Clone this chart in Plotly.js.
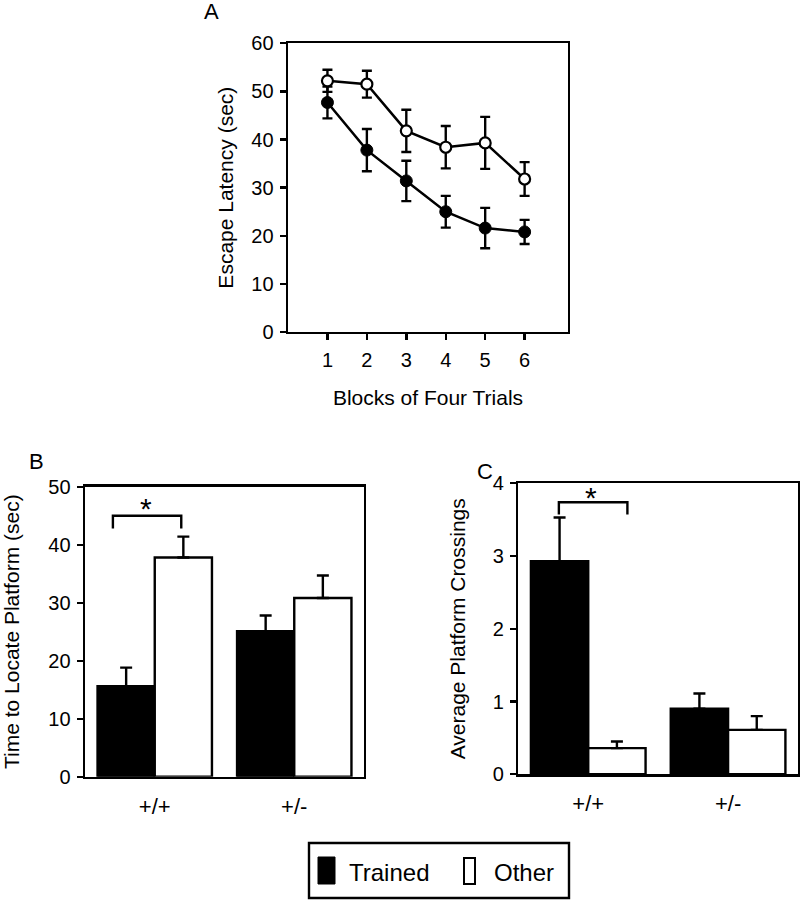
<!DOCTYPE html>
<html>
<head>
<meta charset="utf-8">
<script src="https://cdn.plot.ly/plotly-3.0.1.min.js"></script>
<style>html,body{margin:0;padding:0;background:#fff;}#chart{width:800px;height:900px;}</style>
</head>
<body>
<div id="chart"></div>
<script>
// Panel A: escape latency per block
const blocks = [1, 2, 3, 4, 5, 6];
const latencyTrained = [47.7, 37.8, 31.4, 25.0, 21.6, 20.8];
const latencyTrainedErr = [3.3, 4.4, 4.2, 3.3, 4.2, 2.5];
const latencyOther = [52.2, 51.5, 41.8, 38.4, 39.3, 31.8];
const latencyOtherErr = [2.3, 2.8, 4.4, 4.4, 5.4, 3.5];

// Panel B/C groups
const genotypes = ['+/+', '+/-'];
const timeTrained = [15.6, 25.1];
const timeTrainedErr = [3.2, 2.7];
const timeOther = [37.8, 30.8];
const timeOtherErr = [3.6, 3.9];

const crossTrained = [2.93, 0.90];
const crossTrainedErr = [0.60, 0.21];
const crossOther = [0.36, 0.61];
const crossOtherErr = [0.09, 0.19];

const seriesNames = ['Trained', 'Other'];
const panelLabels = ['A', 'B', 'C'];

const FONT = 'Liberation Sans, Arial, Helvetica, sans-serif';
const K = '#000';

function errBar(arr, sym, w) {
  const e = {type: 'data', array: arr, visible: true, color: K, thickness: 2.4, width: w};
  e.symmetric = !!sym;
  return e;
}

const traces = [
  {x: blocks, y: latencyTrained, name: seriesNames[0], type: 'scatter', mode: 'lines+markers',
   xaxis: 'x', yaxis: 'y', line: {color: K, width: 2.5},
   marker: {color: K, size: 12, line: {color: K, width: 1}},
   error_y: errBar(latencyTrainedErr, true, 5), showlegend: false},
  {x: blocks, y: latencyOther, name: seriesNames[1], type: 'scatter', mode: 'lines+markers',
   xaxis: 'x', yaxis: 'y', line: {color: K, width: 2.5},
   marker: {color: '#fff', size: 11, line: {color: K, width: 2.2}},
   error_y: errBar(latencyOtherErr, true, 5), showlegend: false},
  {x: genotypes, y: timeTrained, name: seriesNames[0], type: 'bar', xaxis: 'x2', yaxis: 'y2',
   marker: {color: K, line: {color: K, width: 2.4}}, error_y: errBar(timeTrainedErr, false, 6), showlegend: false},
  {x: genotypes, y: timeOther, name: seriesNames[1], type: 'bar', xaxis: 'x2', yaxis: 'y2',
   marker: {color: '#fff', line: {color: K, width: 2.4}}, error_y: errBar(timeOtherErr, false, 6), showlegend: false},
  {x: genotypes, y: crossTrained, name: seriesNames[0], type: 'bar', xaxis: 'x3', yaxis: 'y3',
   marker: {color: K, line: {color: K, width: 2.4}}, error_y: errBar(crossTrainedErr, false, 6), showlegend: false},
  {x: genotypes, y: crossOther, name: seriesNames[1], type: 'bar', xaxis: 'x3', yaxis: 'y3',
   marker: {color: '#fff', line: {color: K, width: 2.4}}, error_y: errBar(crossOtherErr, false, 6), showlegend: false}
];

const axBase = {showline: true, linecolor: K, linewidth: 2.4, mirror: true, showgrid: false, zeroline: false,
  ticks: 'outside', ticklen: 6, tickwidth: 2.4, tickcolor: K, tickfont: {family: FONT, size: 20, color: K}};
const titleFont = {family: FONT, size: 21, color: K};
const catFont = {family: FONT, size: 22, color: K};

const layout = {
  width: 800, height: 900,
  margin: {l: 0, r: 0, t: 0, b: 0},
  paper_bgcolor: '#fff', plot_bgcolor: '#fff',
  font: {family: FONT, color: K},
  showlegend: false,
  barmode: 'group', bargap: 0.18, bargroupgap: 0,
  xaxis: Object.assign({}, axBase, {domain: [0.36, 0.71], anchor: 'y', range: [0, 7.1], tickvals: blocks,
    ticklabelstandoff: 3, title: {text: 'Blocks of Four Trials', font: titleFont, standoff: 20}}),
  yaxis: Object.assign({}, axBase, {domain: [0.6311, 0.9519], anchor: 'x', range: [0, 60], dtick: 10,
    ticklabelstandoff: 2, title: {text: 'Escape Latency (sec)', font: titleFont, standoff: 12}}),
  xaxis2: Object.assign({}, axBase, {domain: [0.10625, 0.455], anchor: 'y2', range: [-0.5, 1.5], type: 'category',
    ticks: '', tickfont: catFont, ticklabelstandoff: 8}),
  yaxis2: Object.assign({}, axBase, {domain: [0.137, 0.4592], anchor: 'x2', range: [0, 50], dtick: 10,
    ticklabelstandoff: 2, title: {text: 'Time to Locate Platform (sec)', font: titleFont, standoff: 24}}),
  xaxis3: Object.assign({}, axBase, {domain: [0.6479, 0.9975], anchor: 'y3', range: [-0.5, 1.5], type: 'category',
    ticks: '', tickfont: catFont, ticklabelstandoff: 8}),
  yaxis3: Object.assign({}, axBase, {domain: [0.1397, 0.463], anchor: 'x3', range: [0, 4], dtick: 1,
    ticklabelstandoff: 2, title: {text: 'Average Platform Crossings', font: titleFont, standoff: 22}}),
  shapes: [
    {type: 'path', xref: 'x2', yref: 'y2', path: 'M -0.30,42.8 L -0.30,45 L 0.19,45 L 0.19,42.8', line: {color: K, width: 2.4}},
    {type: 'path', xref: 'x3', yref: 'y3', path: 'M -0.21,3.57 L -0.21,3.74 L 0.28,3.74 L 0.28,3.57', line: {color: K, width: 2.4}},
    {type: 'rect', xref: 'paper', yref: 'paper', x0: 309/800, x1: 569/800, y0: 1-898/900, y1: 1-843/900, line: {color: K, width: 2.4}, fillcolor: 'rgba(0,0,0,0)'},
    {type: 'rect', xref: 'paper', yref: 'paper', x0: 318/800, x1: 335/800, y0: 1-884/900, y1: 1-857/900, line: {color: K, width: 1}, fillcolor: K},
    {type: 'rect', xref: 'paper', yref: 'paper', x0: 464/800, x1: 475/800, y0: 1-884/900, y1: 1-858/900, line: {color: K, width: 2}, fillcolor: '#fff'}
  ],
  annotations: [
    {text: panelLabels[0], xref: 'paper', yref: 'paper', x: 211/800, y: 1-12/900, xanchor: 'center', yanchor: 'middle', showarrow: false, font: {family: FONT, size: 22, color: K}},
    {text: panelLabels[1], xref: 'paper', yref: 'paper', x: 36/800, y: 1-461/900, xanchor: 'center', yanchor: 'middle', showarrow: false, font: {family: FONT, size: 22, color: K}},
    {text: panelLabels[2], xref: 'paper', yref: 'paper', x: 485/800, y: 1-471/900, xanchor: 'center', yanchor: 'middle', showarrow: false, font: {family: FONT, size: 22, color: K}},
    {text: '*', xref: 'x2', yref: 'y2', x: -0.06, y: 46.3, xanchor: 'center', yanchor: 'middle', showarrow: false, font: {family: FONT, size: 30, color: K}},
    {text: '*', xref: 'x3', yref: 'y3', x: 0.02, y: 3.8, xanchor: 'center', yanchor: 'middle', showarrow: false, font: {family: FONT, size: 30, color: K}},
    {text: seriesNames[0], xref: 'paper', yref: 'paper', x: 347/800, y: 1-872/900, xanchor: 'left', yanchor: 'middle', showarrow: false, font: {family: FONT, size: 24, color: K}},
    {text: seriesNames[1], xref: 'paper', yref: 'paper', x: 492/800, y: 1-872/900, xanchor: 'left', yanchor: 'middle', showarrow: false, font: {family: FONT, size: 24, color: K}}
  ]
};

Plotly.newPlot('chart', traces, layout, {staticPlot: true, displayModeBar: false});
</script>
</body>
</html>
